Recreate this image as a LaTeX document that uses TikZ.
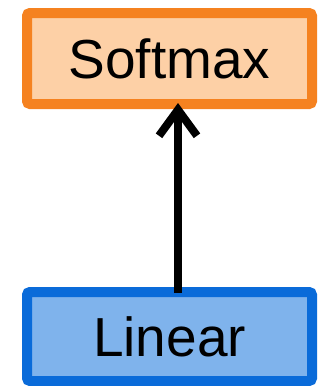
\documentclass[tikz,border=0pt]{standalone}
\usepackage{fontspec}
\setmainfont{Liberation Sans}
\usetikzlibrary{arrows.meta,shadows}
\definecolor{smfill}{HTML}{FDD0A6}
\definecolor{smdraw}{HTML}{F58220}
\definecolor{lnfill}{HTML}{7FB3EC}
\definecolor{lndraw}{HTML}{0A6BD9}
\tikzset{
  layerbox/.style={rectangle, rounded corners=3pt, line width=10pt,
    minimum width=285pt, inner sep=0pt,
    font=\fontsize{55}{60}\selectfont,
    drop shadow={opacity=0.18, shadow xshift=1.5pt, shadow yshift=-3pt}},
  flow/.style={line width=8pt, -{Straight Barb[length=26pt,width=38pt,line width=8pt]}}
}
\begin{document}
\begin{tikzpicture}[x=1pt,y=-1pt]
\useasboundingbox (0,0) rectangle (323,386);
\node[layerbox, draw=smdraw, fill=smfill, minimum height=91pt] (softmax) at (169.5,58.5) {Softmax};
\node[layerbox, draw=lndraw, fill=lnfill, minimum height=89pt] (linear) at (169.5,336.5) {Linear};
\draw[flow] ([xshift=8.5pt,yshift=-6pt]linear.north) -- ([xshift=8.5pt,yshift=6pt]softmax.south);
\end{tikzpicture}
\end{document}
